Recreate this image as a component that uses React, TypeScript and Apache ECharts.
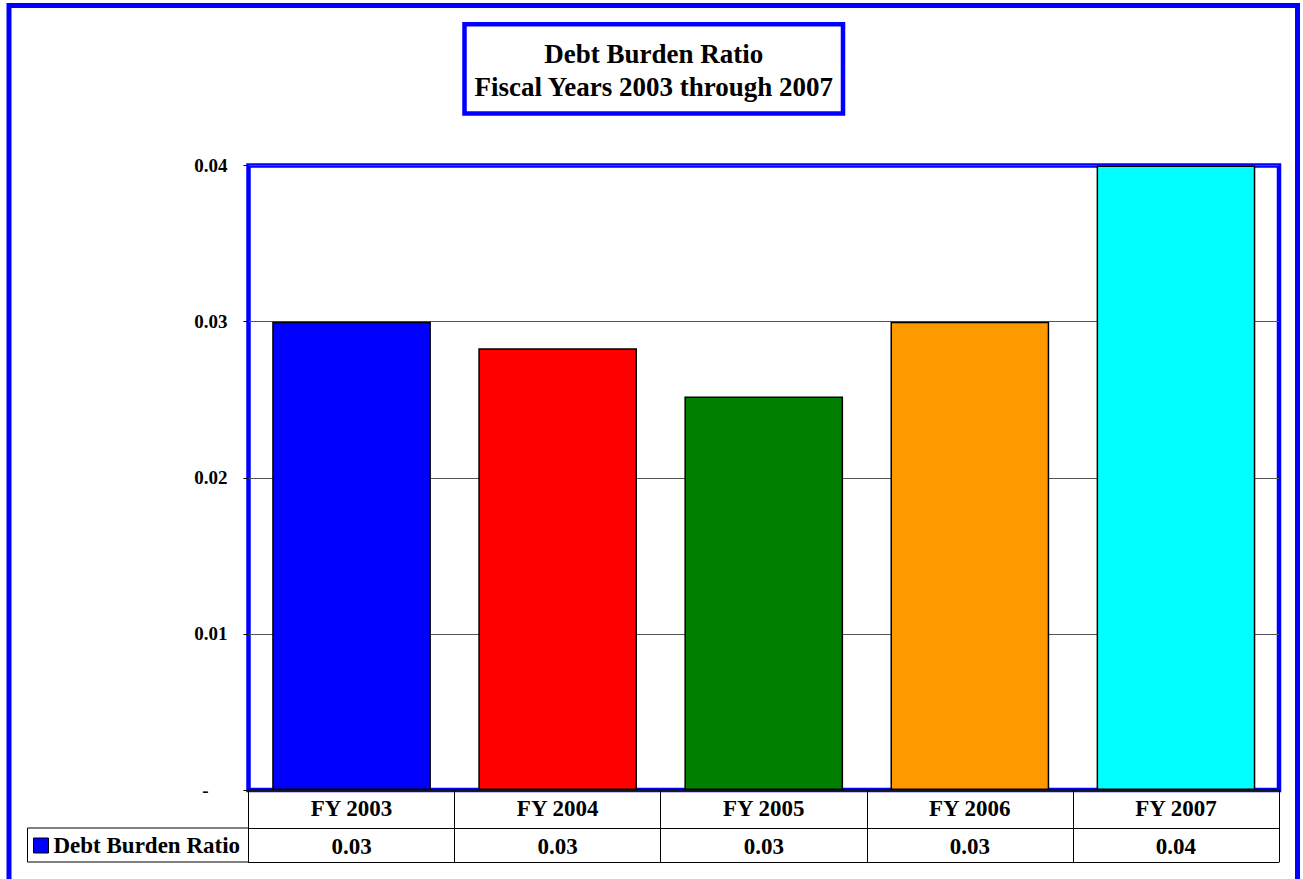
import React, { useEffect, useRef } from "react";
import * as echarts from "echarts";

const categories = ["FY 2003", "FY 2004", "FY 2005", "FY 2006", "FY 2007"];
const values = [0.03, 0.0283, 0.0252, 0.03, 0.04];
const barColors = ["#0000ff", "#ff0000", "#008000", "#ff9900", "#00ffff"];
const seriesName = "Debt Burden Ratio";
const titleText = "Debt Burden Ratio\nFiscal Years 2003 through 2007";
const yTicks = [0, 0.01, 0.02, 0.03, 0.04];

const FONT = '"Liberation Serif", "Times New Roman", serif';

export default function App() {
  const ref = useRef<HTMLDivElement>(null);
  useEffect(() => {
    if (!ref.current) return;
    const chart = echarts.init(ref.current, undefined, { renderer: "svg" });
    const gLeft = 248.5;
    const gTop = 165.5;
    const gRight = 24;
    const gBottom = 89;
    const axisY = 879 - gBottom;
    const option: any = {
      animation: false,
      backgroundColor: "#ffffff",
      legend: {
        data: [seriesName],
        left: 33,
        top: axisY + 44,
        padding: 0,
        icon: "rect",
        itemWidth: 15,
        itemHeight: 15,
        itemStyle: { color: "#0000ff", borderColor: "#000", borderWidth: 1 },
        textStyle: {
          fontFamily: FONT,
          fontWeight: "bold",
          fontSize: 23,
          color: "#000",
        },
      },
      graphic: [
        {
          type: "rect",
          z: -10,
          silent: true,
          shape: { x: 9, y: 5.5, width: 1288.5, height: 1000 },
          style: { fill: "none", stroke: "#0000ff", lineWidth: 5 },
        },
        {
          type: "rect",
          z: -5,
          silent: true,
          shape: { x: 464.5, y: 24.3, width: 378.5, height: 89.2 },
          style: { fill: "#ffffff", stroke: "#0000ff", lineWidth: 4.5 },
        },
        {
          type: "text",
          z: 10,
          silent: true,
          x: 653.75,
          y: 70,
          style: {
            text: titleText,
            textAlign: "center",
            textVerticalAlign: "middle",
            fontFamily: FONT,
            fontWeight: "bold",
            fontSize: 27,
            lineHeight: 33,
            fill: "#000",
          },
        },
        {
          type: "rect",
          silent: true,
          shape: { x: 27.5, y: axisY + 38, width: gLeft - 27.5, height: 34 },
          style: { fill: "none", stroke: "#000", lineWidth: 1 },
        },
      ],
      grid: {
        left: gLeft,
        top: gTop,
        right: gRight,
        bottom: gBottom,
        show: true,
        borderColor: "#0000ff",
        borderWidth: 4.5,
        backgroundColor: "#ffffff",
      },
      xAxis: [
        {
          type: "category",
          data: categories,
          position: "bottom",
          axisLine: { show: true, lineStyle: { color: "#000", width: 1.5 } },
          axisTick: { show: true, length: 72, lineStyle: { color: "#000", width: 1 } },
          axisLabel: {
            margin: 7,
            fontFamily: FONT,
            fontWeight: "bold",
            fontSize: 23,
            color: "#000",
          },
        },
        {
          type: "category",
          data: values.map((v) => v.toFixed(2)),
          position: "bottom",
          offset: 38,
          axisLine: { show: true, lineStyle: { color: "#000", width: 1 } },
          axisTick: { show: false },
          axisLabel: {
            margin: 7,
            fontFamily: FONT,
            fontWeight: "bold",
            fontSize: 23,
            color: "#000",
          },
        },
        {
          type: "category",
          data: categories,
          position: "bottom",
          offset: 72,
          axisLine: { show: true, lineStyle: { color: "#000", width: 1 } },
          axisTick: { show: false },
          axisLabel: { show: false },
        },
      ],
      yAxis: {
        type: "value",
        min: yTicks[0],
        max: yTicks[yTicks.length - 1],
        interval: 0.01,
        axisLine: { show: false },
        axisTick: { show: true, length: 5, lineStyle: { color: "#000", width: 1 } },
        splitLine: { show: true, lineStyle: { color: "#555", width: 1 } },
        axisLabel: {
          margin: 21,
          fontFamily: FONT,
          fontWeight: "bold",
          fontSize: 19,
          color: "#000",
          formatter: (v: number) => (v === 0 ? "{d|-}" : v.toFixed(2)),
          rich: {
            d: {
              fontFamily: FONT,
              fontWeight: "bold",
              fontSize: 19,
              color: "#000",
              padding: [0, 19, 0, 0],
            },
          },
        },
      },
      series: [
        {
          name: seriesName,
          type: "bar",
          xAxisIndex: 0,
          barWidth: "77%",
          itemStyle: { color: "#0000ff", borderColor: "#000", borderWidth: 1.5 },
          data: values.map((v, i) => ({
            value: v,
            itemStyle: { color: barColors[i], borderColor: "#000", borderWidth: 1.5 },
          })),
        },
      ],
    };
    chart.setOption(option);
    return () => chart.dispose();
  }, []);
  return (
    <div
      ref={ref}
      style={{ position: "fixed", left: 0, top: 0, width: 1303, height: 879 }}
    />
  );
}
